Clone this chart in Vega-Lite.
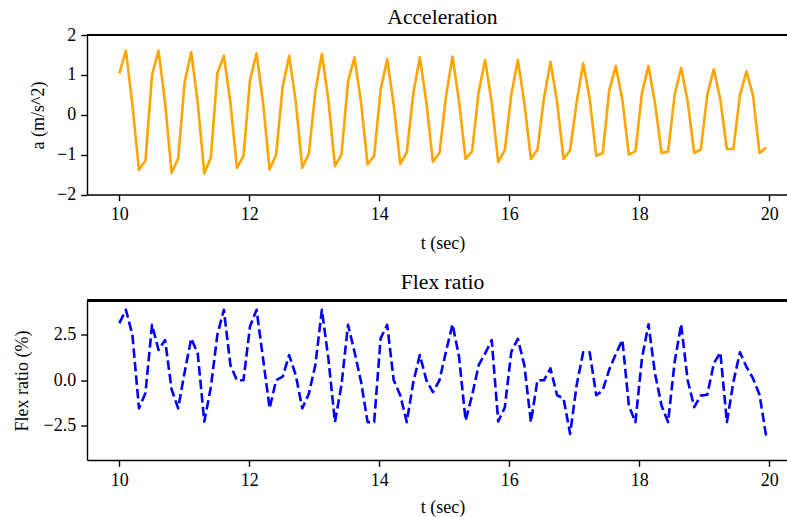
{
"$schema": "https://vega.github.io/schema/vega-lite/v6.json",
"padding": {"left": 13, "top": 7, "right": 0, "bottom": 0},
"background": "white",
"config": {
  "font": "Liberation Serif",
  "view": {"stroke": null},
  "axis": {"labelFont": "Liberation Serif", "titleFont": "Liberation Serif", "labelFontSize": 18, "titleFontSize": 18, "labelColor": "black", "titleColor": "black", "domainColor": "black", "tickColor": "black", "domainWidth": 1.4, "tickWidth": 1.4, "tickSize": 6.3, "labelPadding": 5, "grid": false, "titleFontWeight": "normal", "labelOverlap": false, "labelFlush": false},
  "title": {"font": "Liberation Serif", "fontSize": 21.6, "fontWeight": "normal", "color": "black", "frame": "group", "dx": 5.5}
},
"datasets": {
"acc": [{"t":10.000,"a":1.04},{"t":10.101,"a":1.61},{"t":10.201,"a":0.25},{"t":10.302,"a":-1.38},{"t":10.402,"a":-1.15},{"t":10.503,"a":1.0},{"t":10.603,"a":1.61},{"t":10.704,"a":0.3},{"t":10.804,"a":-1.46},{"t":10.905,"a":-1.1},{"t":11.005,"a":0.83},{"t":11.106,"a":1.57},{"t":11.206,"a":0.3},{"t":11.307,"a":-1.47},{"t":11.407,"a":-1.08},{"t":11.508,"a":1.04},{"t":11.608,"a":1.48},{"t":11.709,"a":0.3},{"t":11.809,"a":-1.33},{"t":11.910,"a":-1.04},{"t":12.010,"a":0.875},{"t":12.111,"a":1.54},{"t":12.211,"a":0.3},{"t":12.312,"a":-1.375},{"t":12.412,"a":-1.0},{"t":12.513,"a":0.71},{"t":12.613,"a":1.475},{"t":12.714,"a":0.33},{"t":12.814,"a":-1.33},{"t":12.915,"a":-0.975},{"t":13.015,"a":0.58},{"t":13.116,"a":1.525},{"t":13.216,"a":0.37},{"t":13.317,"a":-1.29},{"t":13.417,"a":-1.0},{"t":13.518,"a":0.83},{"t":13.618,"a":1.44},{"t":13.719,"a":0.3},{"t":13.819,"a":-1.25},{"t":13.920,"a":-1.03},{"t":14.020,"a":0.625},{"t":14.121,"a":1.39},{"t":14.221,"a":0.25},{"t":14.322,"a":-1.23},{"t":14.422,"a":-0.94},{"t":14.523,"a":0.54},{"t":14.623,"a":1.44},{"t":14.724,"a":0.3},{"t":14.824,"a":-1.18},{"t":14.925,"a":-0.96},{"t":15.025,"a":0.46},{"t":15.126,"a":1.46},{"t":15.226,"a":0.33},{"t":15.327,"a":-1.11},{"t":15.427,"a":-0.92},{"t":15.528,"a":0.58},{"t":15.628,"a":1.375},{"t":15.729,"a":0.3},{"t":15.829,"a":-1.19},{"t":15.930,"a":-0.89},{"t":16.030,"a":0.5},{"t":16.131,"a":1.375},{"t":16.231,"a":0.29},{"t":16.332,"a":-1.11},{"t":16.432,"a":-0.875},{"t":16.533,"a":0.42},{"t":16.633,"a":1.33},{"t":16.734,"a":0.33},{"t":16.834,"a":-1.11},{"t":16.935,"a":-0.89},{"t":17.035,"a":0.31},{"t":17.136,"a":1.29},{"t":17.236,"a":0.4},{"t":17.337,"a":-1.03},{"t":17.437,"a":-0.96},{"t":17.538,"a":0.625},{"t":17.638,"a":1.225},{"t":17.739,"a":0.375},{"t":17.839,"a":-1.0},{"t":17.940,"a":-0.92},{"t":18.040,"a":0.54},{"t":18.141,"a":1.225},{"t":18.241,"a":0.29},{"t":18.342,"a":-0.96},{"t":18.442,"a":-0.925},{"t":18.543,"a":0.5},{"t":18.643,"a":1.18},{"t":18.744,"a":0.33},{"t":18.844,"a":-0.96},{"t":18.945,"a":-0.875},{"t":19.045,"a":0.5},{"t":19.146,"a":1.14},{"t":19.246,"a":0.375},{"t":19.347,"a":-0.86},{"t":19.447,"a":-0.86},{"t":19.548,"a":0.5},{"t":19.648,"a":1.09},{"t":19.749,"a":0.48},{"t":19.849,"a":-0.96},{"t":19.950,"a":-0.82}],
"flex": [{"t":10.000,"f":3.15},{"t":10.101,"f":3.89},{"t":10.201,"f":2.5},{"t":10.302,"f":-1.55},{"t":10.402,"f":-0.7},{"t":10.503,"f":3.06},{"t":10.603,"f":1.67},{"t":10.704,"f":2.22},{"t":10.804,"f":-0.5},{"t":10.905,"f":-1.55},{"t":11.005,"f":0.46},{"t":11.106,"f":2.31},{"t":11.206,"f":1.48},{"t":11.307,"f":-2.28},{"t":11.407,"f":-0.4},{"t":11.508,"f":2.5},{"t":11.608,"f":3.89},{"t":11.709,"f":0.83},{"t":11.809,"f":0.0},{"t":11.910,"f":0.0},{"t":12.010,"f":2.96},{"t":12.111,"f":3.89},{"t":12.211,"f":1.2},{"t":12.312,"f":-1.55},{"t":12.412,"f":0.0},{"t":12.513,"f":0.2},{"t":12.613,"f":1.39},{"t":12.714,"f":0.28},{"t":12.814,"f":-1.55},{"t":12.915,"f":-0.75},{"t":13.015,"f":0.83},{"t":13.116,"f":3.89},{"t":13.216,"f":1.2},{"t":13.317,"f":-2.31},{"t":13.417,"f":-0.28},{"t":13.518,"f":3.06},{"t":13.618,"f":1.57},{"t":13.719,"f":-0.09},{"t":13.819,"f":-2.31},{"t":13.920,"f":-2.31},{"t":14.020,"f":2.31},{"t":14.121,"f":3.06},{"t":14.221,"f":0.0},{"t":14.322,"f":-0.83},{"t":14.422,"f":-2.31},{"t":14.523,"f":-0.09},{"t":14.623,"f":1.39},{"t":14.724,"f":0.0},{"t":14.824,"f":-0.65},{"t":14.925,"f":0.0},{"t":15.025,"f":1.57},{"t":15.126,"f":3.09},{"t":15.226,"f":1.3},{"t":15.327,"f":-2.22},{"t":15.427,"f":-0.83},{"t":15.528,"f":0.83},{"t":15.628,"f":1.48},{"t":15.729,"f":2.22},{"t":15.829,"f":-2.28},{"t":15.930,"f":-1.5},{"t":16.030,"f":1.57},{"t":16.131,"f":2.28},{"t":16.231,"f":0.83},{"t":16.332,"f":-2.31},{"t":16.432,"f":0.0},{"t":16.533,"f":0.0},{"t":16.633,"f":0.65},{"t":16.734,"f":-0.83},{"t":16.834,"f":-1.0},{"t":16.935,"f":-2.96},{"t":17.035,"f":-0.28},{"t":17.136,"f":1.54},{"t":17.236,"f":1.54},{"t":17.337,"f":-0.83},{"t":17.437,"f":-0.55},{"t":17.538,"f":0.6},{"t":17.638,"f":1.45},{"t":17.739,"f":2.22},{"t":17.839,"f":-1.4},{"t":17.940,"f":-2.31},{"t":18.040,"f":1.2},{"t":18.141,"f":3.09},{"t":18.241,"f":0.37},{"t":18.342,"f":-1.4},{"t":18.442,"f":-2.31},{"t":18.543,"f":1.0},{"t":18.643,"f":3.09},{"t":18.744,"f":0.0},{"t":18.844,"f":-1.48},{"t":18.945,"f":-0.85},{"t":19.045,"f":-0.8},{"t":19.146,"f":0.93},{"t":19.246,"f":1.54},{"t":19.347,"f":-2.31},{"t":19.447,"f":-0.09},{"t":19.548,"f":1.54},{"t":19.648,"f":0.74},{"t":19.749,"f":0.1},{"t":19.849,"f":-0.8},{"t":19.950,"f":-3.06}]
},
"spacing": 105.5,
"bounds": "flush",
"vconcat": [
  {
    "title": {"text": "Acceleration", "offset": -3},
    "width": 700, "height": 159.5,
    "data": {"name": "acc"},
    "layer": [
      {"mark": {"type": "line", "color": "#FFA500", "strokeWidth": 2.6, "strokeJoin": "round"},
       "encoding": {
         "x": {"field": "t", "type": "quantitative", "scale": {"domain": [9.5025, 20.2717], "nice": false, "zero": false}, "axis": {"values": [10,12,14,16,18,20], "format": "d", "title": "t (sec)", "titleX": 355.5, "titlePadding": 11}},
         "y": {"field": "a", "type": "quantitative", "scale": {"domain": [-2, 2], "nice": false}, "axis": {"values": [-2,-1,0,1,2], "format": "d", "title": "a (m/s^2)", "titleX": -40, "titleY": 80}}
       }},
      {"mark": {"type": "rule", "color": "black", "strokeWidth": 1.4},
       "encoding": {"y": {"datum": 2, "type": "quantitative", "axis": {"values": [-2,-1,0,1,2], "format": "d", "title": "a (m/s^2)", "titleX": -40, "titleY": 80}}}}
    ]
  },
  {
    "title": {"text": "Flex ratio", "offset": 6.5},
    "width": 700, "height": 159.5,
    "data": {"name": "flex"},
    "layer": [
      {"mark": {"type": "line", "color": "#0000FF", "strokeWidth": 2.6, "strokeDash": [9.5, 4.1], "strokeJoin": "round"},
       "encoding": {
         "x": {"field": "t", "type": "quantitative", "scale": {"domain": [9.5025, 20.2717], "nice": false, "zero": false}, "axis": {"values": [10,12,14,16,18,20], "format": "d", "title": "t (sec)", "titleX": 355.5, "titlePadding": 9}},
         "y": {"field": "f", "type": "quantitative", "scale": {"domain": [-4.4, 4.4], "nice": false}, "axis": {"values": [-2.5,0,2.5], "format": ".1f", "title": "Flex ratio (%)", "titleX": -56, "titleY": 80}}
       }},
      {"mark": {"type": "rule", "color": "black", "strokeWidth": 1.4},
       "encoding": {"y": {"datum": 4.4, "type": "quantitative", "axis": {"values": [-2.5,0,2.5], "format": ".1f", "title": "Flex ratio (%)", "titleX": -56, "titleY": 80}}}}
    ]
  }
]
}
